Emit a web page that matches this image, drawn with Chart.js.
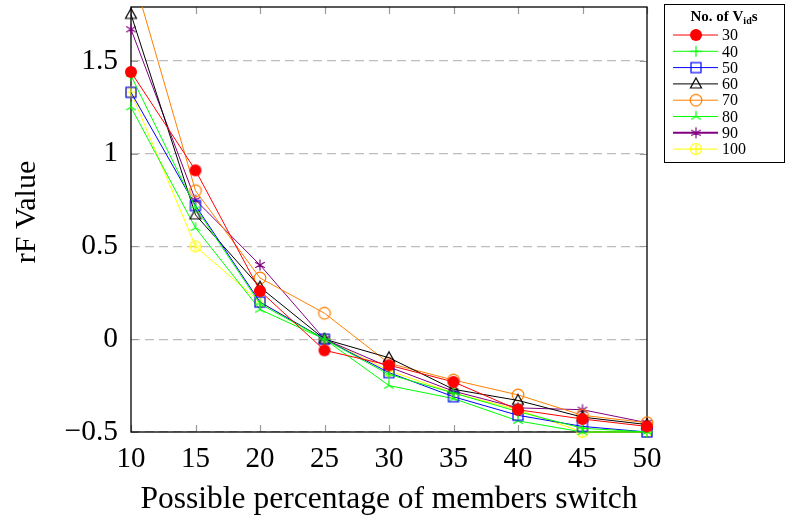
<!DOCTYPE html>
<html>
<head>
<meta charset="utf-8">
<script src="https://cdn.jsdelivr.net/npm/chart.js@4"></script>
<style>
  html, body { margin: 0; padding: 0; background: #fff; }
  #wrap { width: 787px; height: 523px; }
</style>
</head>
<body>
<div id="wrap"><canvas id="chart" width="787" height="523"></canvas></div>
<script>
// values
const categories = [10, 15, 20, 25, 30, 35, 40, 45, 50];
const seriesNames = ['30', '40', '50', '60', '70', '80', '90', '100'];
const vids30  = [1.44, 0.91, 0.26, -0.06, -0.14, -0.23, -0.38, -0.43, -0.47];
const vids40  = [1.42, 0.71, 0.19, 0.00, -0.19, -0.29, -0.39, -0.48, -0.50];
const vids50  = [1.33, 0.72, 0.20, 0.00, -0.18, -0.31, -0.41, -0.47, -0.50];
const vids60  = [1.75, 0.67, 0.28, 0.00, -0.10, -0.27, -0.33, -0.42, -0.46];
const vids70  = [2.00, 0.80, 0.33, 0.14, -0.13, -0.22, -0.30, -0.41, -0.45];
const vids80  = [1.25, 0.60, 0.16, 0.00, -0.25, -0.32, -0.44, -0.50, -0.50];
const vids90  = [1.67, 0.75, 0.40, 0.00, -0.15, -0.28, -0.37, -0.38, -0.45];
const vids100 = [1.33, 0.50, 0.20, 0.00, -0.17, -0.29, -0.38, -0.50, -0.50];
const xTicks = [10, 15, 20, 25, 30, 35, 40, 45, 50];
const yTicks = [-0.5, 0, 0.5, 1, 1.5];

const allSeries = [vids30, vids40, vids50, vids60, vids70, vids80, vids90, vids100];
const colors = ['#ff0000', '#00ff00', '#0000ff', '#000000', '#ff8000', '#00ff00', '#800080', '#ffff00'];
const markers = ['dot', 'plus', 'square', 'triangle', 'circle', 'tristar', 'asterisk', 'oplus'];

// small canvases used as point styles (pgfplots-like marks)
function makeMarker(kind, color) {
    const s = 16;
    const c = document.createElement('canvas');
    c.width = s; c.height = s;
    const g = c.getContext('2d');
    const m = s / 2;
    g.strokeStyle = color;
    g.fillStyle = color;
    g.lineWidth = 1.2;
    const spokes = (angles, r) => {
        g.beginPath();
        angles.forEach(a => {
            const t = a * Math.PI / 180;
            g.moveTo(m, m);
            g.lineTo(m + r * Math.cos(t), m - r * Math.sin(t));
        });
        g.stroke();
    };
    if (kind === 'dot') {
        g.beginPath(); g.arc(m, m, 6, 0, Math.PI * 2); g.fill();
    } else if (kind === 'plus') {
        spokes([0, 90, 180, 270], 5.5);
    } else if (kind === 'square') {
        g.strokeRect(m - 5, m - 5, 10, 10);
    } else if (kind === 'triangle') {
        g.beginPath();
        g.moveTo(m, m - 6); g.lineTo(m + 5.5, m + 4); g.lineTo(m - 5.5, m + 4); g.closePath();
        g.stroke();
    } else if (kind === 'circle') {
        g.beginPath(); g.arc(m, m, 5.8, 0, Math.PI * 2); g.stroke();
    } else if (kind === 'tristar') {
        spokes([90, 210, 330], 5.5);
    } else if (kind === 'asterisk') {
        spokes([90, 270, 30, 210, 150, 330], 5.5);
    } else if (kind === 'oplus') {
        g.beginPath(); g.arc(m, m, 5.5, 0, Math.PI * 2); g.stroke();
        spokes([0, 90, 180, 270], 5.5);
    }
    return c;
}

const datasets = seriesNames.map((name, i) => ({
    label: name,
    data: categories.map((x, j) => ({ x: x, y: allSeries[i][j] })),
    borderColor: colors[i],
    backgroundColor: colors[i],
    borderWidth: 1,
    pointStyle: makeMarker(markers[i], colors[i]),
    pointRadius: 6,
    tension: 0,
    clip: { left: 12, top: 0, right: 12, bottom: 12 }
}));

const serif = "'Liberation Serif', 'Times New Roman', serif";

// full frame, inward ticks on all four sides, and the boxed legend
const framePlugin = {
    id: 'frame',
    beforeDatasetsDraw(chart) {
        const { ctx, chartArea: a, scales } = chart;
        ctx.save();
        ctx.strokeStyle = '#9a9a9a';
        ctx.lineWidth = 1.2;
        ctx.beginPath();
        xTicks.forEach(v => {
            const px = Math.round(scales.x.getPixelForValue(v)) + 0.5;
            ctx.moveTo(px, a.bottom); ctx.lineTo(px, a.bottom - 7);
            ctx.moveTo(px, a.top); ctx.lineTo(px, a.top + 7);
        });
        yTicks.forEach(v => {
            const py = Math.round(scales.y.getPixelForValue(v)) + 0.5;
            ctx.moveTo(a.left, py); ctx.lineTo(a.left + 7, py);
            ctx.moveTo(a.right, py); ctx.lineTo(a.right - 7, py);
        });
        ctx.stroke();
        ctx.strokeStyle = '#000';
        ctx.lineWidth = 1.3;
        ctx.strokeRect(a.left, a.top, a.right - a.left, a.bottom - a.top);
        ctx.restore();
    },
    afterDraw(chart) {
        const ctx = chart.ctx;
        const bx = 664, by = 4, bw = 120, bh = 158;
        ctx.save();
        ctx.fillStyle = '#fff';
        ctx.fillRect(bx, by, bw, bh);
        ctx.strokeStyle = '#000';
        ctx.lineWidth = 1;
        ctx.strokeRect(bx + 0.5, by + 0.5, bw, bh);

        // title: No. of V_ids
        ctx.fillStyle = '#000';
        ctx.textBaseline = 'alphabetic';
        const big = 'bold 15px ' + serif, small = 'bold 10px ' + serif;
        ctx.font = big;
        const p1 = 'No. of V', p3 = 's';
        const w1 = ctx.measureText(p1).width, w3 = ctx.measureText(p3).width;
        ctx.font = small;
        const w2 = ctx.measureText('id').width;
        let tx = bx + bw / 2 - (w1 + w2 + w3) / 2;
        const ty = by + 17;
        ctx.font = big; ctx.fillText(p1, tx, ty); tx += w1;
        ctx.font = small; ctx.fillText('id', tx, ty + 3); tx += w2;
        ctx.font = big; ctx.fillText(p3, tx, ty);

        chart.data.datasets.forEach((ds, i) => {
            const y = by + 31 + i * 16.3;
            ctx.strokeStyle = ds.borderColor;
            ctx.lineWidth = i === 6 ? 2 : 1;
            ctx.beginPath();
            ctx.moveTo(673, y); ctx.lineTo(718, y);
            ctx.stroke();
            const img = ds.pointStyle;
            ctx.drawImage(img, 696 - img.width / 2, y - img.height / 2);
            ctx.fillStyle = '#000';
            ctx.font = '16px ' + serif;
            ctx.textBaseline = 'middle';
            ctx.fillText(ds.label, 722, y + 1);
        });
        ctx.restore();
    }
};

const fmt = v => (v < 0 ? '\u2212' + Math.abs(v) : String(v));

new Chart(document.getElementById('chart'), {
    type: 'line',
    data: { datasets: datasets },
    options: {
        responsive: false,
        animation: false,
        events: [],
        layout: { padding: { top: 5, right: 140, left: 0, bottom: 0 } },
        plugins: { legend: { display: false }, tooltip: { enabled: false } },
        scales: {
            x: {
                type: 'linear',
                min: 10,
                max: 50,
                afterBuildTicks: s => { s.ticks = xTicks.map(v => ({ value: v })); },
                afterFit: s => { s.height = 91; s.paddingLeft = 0; s.paddingRight = 0; },
                grid: { display: false, drawTicks: false },
                border: { display: false },
                ticks: { color: '#000', padding: 10, font: { family: serif, size: 29 }, maxRotation: 0, callback: fmt },
                title: { display: true, text: 'Possible percentage of members switch', color: '#000',
                         font: { family: serif, size: 31.5 }, padding: { top: 0, bottom: 4 } }
            },
            y: {
                min: -0.5,
                max: 1.79,
                afterBuildTicks: s => { s.ticks = yTicks.map(v => ({ value: v })); },
                afterFit: s => { s.width = 131; s.paddingTop = 0; s.paddingBottom = 0; },
                grid: { color: '#bdbdbd', lineWidth: 1.2, drawTicks: false },
                border: { display: false, dash: [9, 5] },
                ticks: { color: '#000', padding: 13, font: { family: serif, size: 29.5 }, callback: fmt },
                title: { display: true, text: '\u00a0\u00a0rF Value', color: '#000',
                         font: { family: serif, size: 30 }, padding: { top: 9, bottom: 0 } }
            }
        }
    },
    plugins: [framePlugin]
});
</script>
</body>
</html>
